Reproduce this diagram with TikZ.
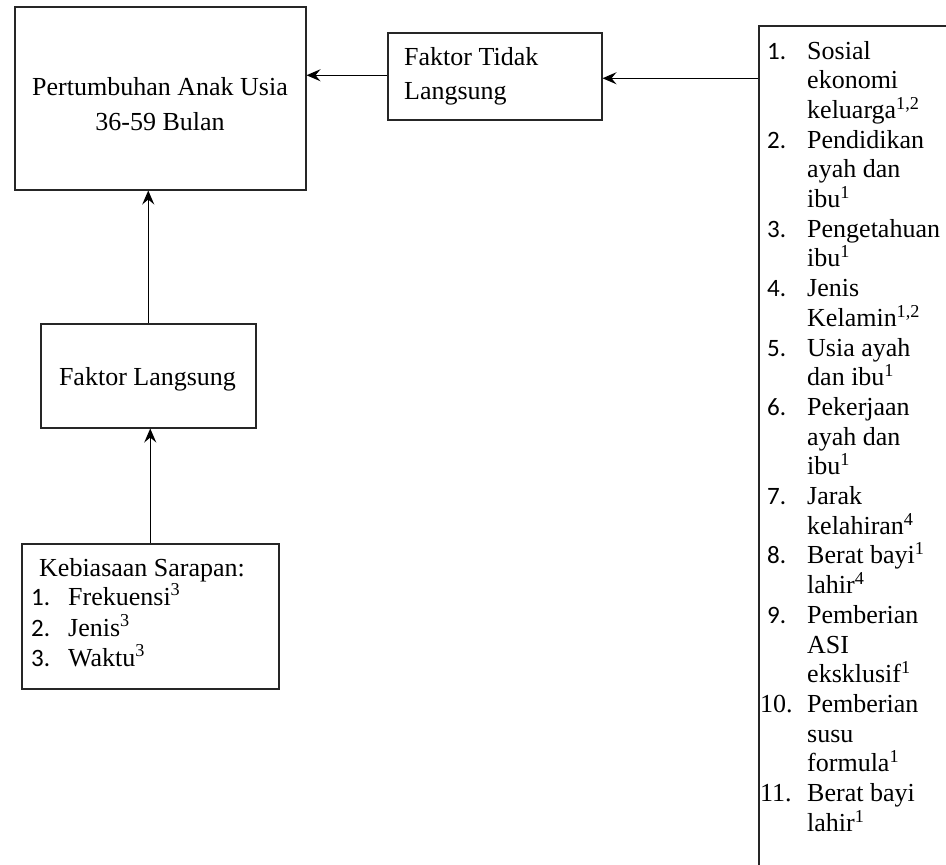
\documentclass[tikz,border=0pt]{standalone}
\usepackage{fontspec}
\setmainfont{Liberation Serif}
\newfontfamily\numfont{Carlito}
\usetikzlibrary{arrows.meta}
\tikzset{
  box/.style={draw=black!85, line width=1.5pt, inner sep=0pt, anchor=north west},
  txt/.style={inner sep=0pt, anchor=base west, font=\fontsize{26}{30}\selectfont},
  ctxt/.style={inner sep=0pt, anchor=base, font=\fontsize{26}{30}\selectfont},
  num/.style={inner sep=0pt, anchor=base west, font=\numfont\fontsize{25}{30}\selectfont},
  arr/.style={draw=black, line width=1.4pt, -{Stealth[length=14pt,width=12pt,inset=5pt]}}
}
\begin{document}
\begin{tikzpicture}[x=1pt,y=-1pt]
\useasboundingbox (0,0) rectangle (946,865);
\clip (0,0) rectangle (946,865);
% boxes
\node[box, minimum width=291pt, minimum height=183pt] (pert) at (14,6) {};
\node[box, minimum width=214pt, minimum height=87pt] (ft) at (387,32) {};
\node[box, minimum width=215pt, minimum height=104pt] (fl) at (40,323) {};
\node[box, minimum width=257pt, minimum height=145pt] (kb) at (21,543) {};
\node[box, minimum width=260pt, minimum height=900pt] (rb) at (758,25) {};
% texts
\node[ctxt] (t1) at (160,95) {Pertumbuhan Anak Usia};
\node[ctxt] (t2) at (160,130) {36-59 Bulan};
\node[txt] (t3) at (404,65) {Faktor Tidak};
\node[txt] (t4) at (404,99) {Langsung};
\node[ctxt] (t5) at (147.5,385) {Faktor Langsung};
\node[txt] (k0) at (39,576) {Kebiasaan Sarapan:};
\node[num] (kn1) at (31,605) {1.};
\node[txt] (k1) at (68,605) {Frekuensi\textsuperscript{3}};
\node[num] (kn2) at (31,636) {2.};
\node[txt] (k2) at (68,636) {Jenis\textsuperscript{3}};
\node[num] (kn3) at (31,666) {3.};
\node[txt] (k3) at (68,666) {Waktu\textsuperscript{3}};
% right list
\foreach \i/\n/\t in {
 0/1./Sosial, 1//ekonomi, 2//keluarga\textsuperscript{1,2},
 3/2./Pendidikan, 4//ayah dan, 5//ibu\textsuperscript{1},
 6/3./Pengetahuan, 7//ibu\textsuperscript{1},
 8/4./Jenis, 9//Kelamin\textsuperscript{1,2},
 10/5./Usia ayah, 11//dan ibu\textsuperscript{1},
 12/6./Pekerjaan, 13//ayah dan, 14//ibu\textsuperscript{1},
 15/7./Jarak, 16//kelahiran\textsuperscript{4},
 17/8./Berat bayi\textsuperscript{1}, 18//lahir\textsuperscript{4},
 19/9./Pemberian, 20//ASI, 21//eksklusif\textsuperscript{1}}
{
  \node[num] (rn\i) at (767,59+29.7*\i) {\n};
  \node[txt] (r\i) at (807,59+29.7*\i) {\t};
}
\node[txt] (rn22) at (760,59+29.7*22) {10.};
\node[txt] (r22) at (807,59+29.7*22) {Pemberian};
\node[txt] (r23) at (807,59+29.7*23) {susu};
\node[txt] (r24) at (807,59+29.7*24) {formula\textsuperscript{1}};
\node[txt] (rn25) at (760,59+29.7*25) {11.};
\node[txt] (r25) at (807,59+29.7*25) {Berat bayi};
\node[txt] (r26) at (807,59+29.7*26) {lahir\textsuperscript{1}};
% connectors
\coordinate (rbin) at ([yshift=-2pt]ft.east -| rb.west);
\draw[arr] (rbin) -- (rbin -| ft.east);
\draw[arr] ([yshift=1pt]ft.west) -- ([yshift=1pt]ft.west -| pert.east);
\draw[arr] (fl.north) -- (fl.north |- pert.south);
\draw[arr] (kb.north) -- (kb.north |- fl.south);
\end{tikzpicture}
\end{document}
